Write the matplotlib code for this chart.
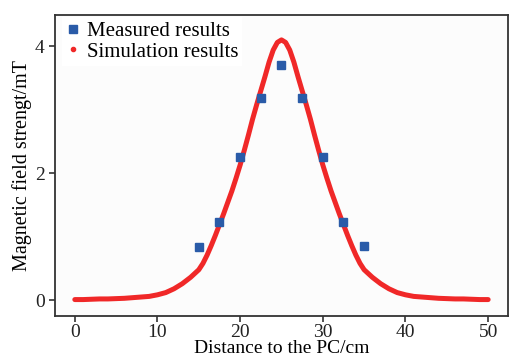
import matplotlib
matplotlib.use('Agg')
import matplotlib.pyplot as plt
from matplotlib.lines import Line2D

plt.rcParams['font.family'] = ['Liberation Serif', 'DejaVu Serif']

# measured points
meas_x = [15, 17.5, 20, 22.5, 25, 27.5, 30, 32.5, 35]
meas_y = [0.84, 1.23, 2.25, 3.18, 3.70, 3.18, 2.25, 1.23, 0.85]

# simulation curve, read every 1 cm on the tails and every 0.5 cm in the middle
sim_x = [0, 1, 2, 3, 4, 5, 6, 7, 8, 9, 10, 11, 12, 13, 14,
         15, 15.5, 16, 16.5, 17, 17.5, 18, 18.5, 19, 19.5,
         20, 20.5, 21, 21.5, 22, 22.5, 23, 23.5, 24, 24.5,
         25, 25.5, 26, 26.5, 27, 27.5, 28, 28.5, 29, 29.5,
         30, 30.5, 31, 31.5, 32, 32.5, 33, 33.5, 34, 34.5,
         35, 36, 37, 38, 39, 40, 41, 42, 43, 44, 45, 46, 47, 48, 49, 50]
sim_y = [0.01, 0.01, 0.015, 0.02, 0.02, 0.025, 0.03, 0.04, 0.05, 0.06,
         0.085, 0.12, 0.18, 0.26, 0.36,
         0.48, 0.58, 0.71, 0.86, 1.02, 1.19, 1.36, 1.54, 1.72, 1.92,
         2.13, 2.36, 2.60, 2.85, 3.08, 3.30, 3.52, 3.75, 3.94, 4.06,
         4.10, 4.06, 3.94, 3.75, 3.52, 3.30, 3.08, 2.85, 2.60, 2.36,
         2.13, 1.92, 1.72, 1.54, 1.36, 1.19, 1.02, 0.86, 0.71, 0.58,
         0.48, 0.36, 0.26, 0.18, 0.12, 0.085, 0.06, 0.05, 0.04, 0.03,
         0.025, 0.02, 0.02, 0.015, 0.01, 0.01]

fig = plt.figure(figsize=(5.09, 3.60), dpi=100)
ax = fig.add_axes([0.108, 0.122, 0.89, 0.836])
ax.set_facecolor('#fcfcfc')

ax.plot(sim_x, sim_y, color='#f02828', lw=3.6, solid_capstyle='round',
        solid_joinstyle='round', zorder=2)
ax.plot(meas_x, meas_y, 's', color='#2a5ba8', ms=5.5, zorder=3)

ax.set_xlim(-2.4, 52.4)
ax.set_ylim(-0.25, 4.49)
ax.set_xticks([0, 10, 20, 30, 40, 50])
ax.set_yticks([0, 2, 4])
ax.tick_params(direction='out', length=4, width=1.1, labelsize=14, colors='#222222')
ax.tick_params(axis='x', pad=2)
for s in ax.spines.values():
    s.set_linewidth(1.3)
    s.set_color('#333333')

ax.set_xlabel('Distance to the PC/cm', fontsize=14, labelpad=-1)
ax.set_ylabel('Magnetic field strengt/mT', fontsize=14.5, labelpad=2)

handles = [Line2D([], [], marker='s', ls='none', color='#2a5ba8', ms=5.5),
           Line2D([], [], marker='o', ls='none', color='#f02828', ms=3)]
leg = ax.legend(handles, ['Measured results', 'Simulation results'],
                loc='upper left', bbox_to_anchor=(0.01, 1.0), fontsize=15,
                frameon=True, facecolor='white', edgecolor='none', framealpha=1,
                fancybox=False, handlelength=0.7, handletextpad=0.3,
                labelspacing=0.05, borderpad=0.2, borderaxespad=0.1)

fig.savefig('out.png', dpi=100)
